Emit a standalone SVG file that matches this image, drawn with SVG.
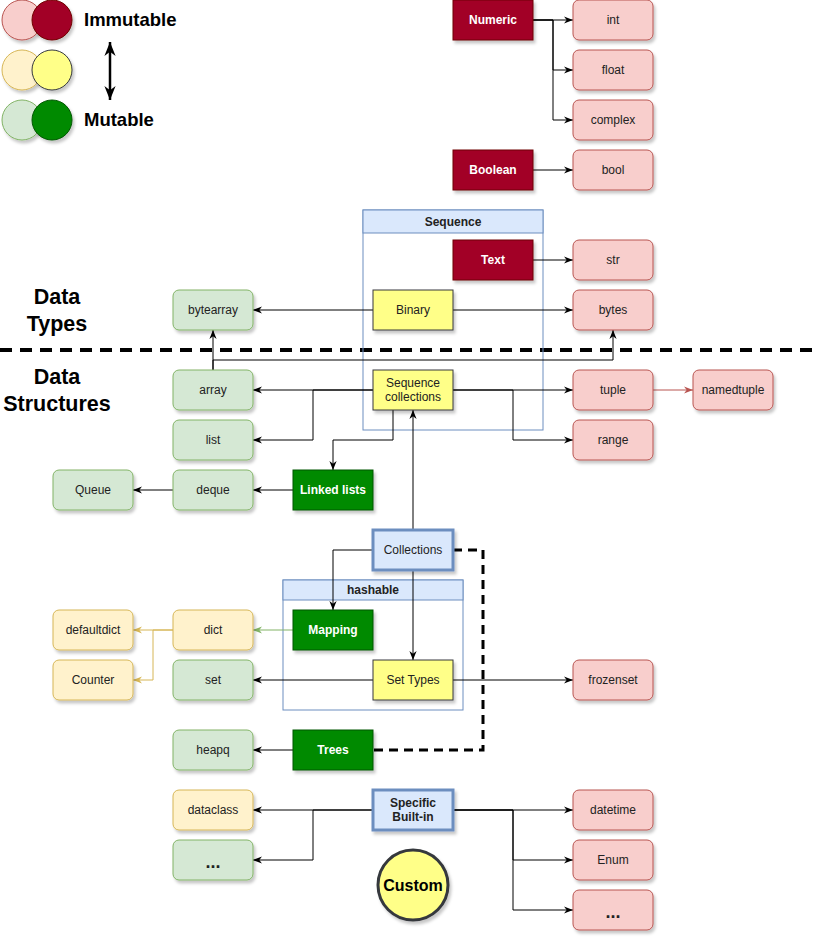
<svg xmlns="http://www.w3.org/2000/svg" width="816" height="942" viewBox="0 0 816 942">
<defs>
<filter id="sh" x="-20%" y="-20%" width="150%" height="160%"><feDropShadow dx="2" dy="3" stdDeviation="1.5" flood-color="#000" flood-opacity="0.22"/></filter>
<marker id="a" viewBox="0 0 10 10" refX="10" refY="5" markerWidth="9" markerHeight="9" orient="auto" markerUnits="userSpaceOnUse"><path d="M0,1 L10,5 L0,9 L3,5 Z" fill="#000"/></marker>
<marker id="ar" viewBox="0 0 10 10" refX="10" refY="5" markerWidth="9" markerHeight="9" orient="auto" markerUnits="userSpaceOnUse"><path d="M0,1 L10,5 L0,9 L3,5 Z" fill="#b85450"/></marker>
<marker id="ag" viewBox="0 0 10 10" refX="10" refY="5" markerWidth="9" markerHeight="9" orient="auto" markerUnits="userSpaceOnUse"><path d="M0,1 L10,5 L0,9 L3,5 Z" fill="#82b366"/></marker>
<marker id="ay" viewBox="0 0 10 10" refX="10" refY="5" markerWidth="9" markerHeight="9" orient="auto" markerUnits="userSpaceOnUse"><path d="M0,1 L10,5 L0,9 L3,5 Z" fill="#d6b656"/></marker>
<marker id="ab" viewBox="0 0 10 10" refX="10" refY="5" markerWidth="14" markerHeight="14" orient="auto-start-reverse" markerUnits="userSpaceOnUse"><path d="M0,1 L10,5 L0,9 L3,5 Z" fill="#000"/></marker>
</defs>
<style>
text{font-family:"Liberation Sans",Arial,sans-serif;font-size:12px;text-anchor:middle;dominant-baseline:central;fill:#222}
.n rect,.n circle{filter:url(#sh)}
.red rect{fill:#f8cecc;stroke:#b85450}
.dred rect{fill:#a20025;stroke:#6f0000}
.dred text,.dgrn text{fill:#fff;font-weight:bold}
.yel rect{fill:#ffff88;stroke:#36393d}
.grn rect{fill:#d5e8d4;stroke:#82b366}
.dgrn rect{fill:#008a00;stroke:#005700}
.ylw rect{fill:#fff2cc;stroke:#d6b656}
.blu rect{fill:#dae8fc;stroke:#6c8ebf;stroke-width:3}
.big{font-size:18.5px;font-weight:bold;fill:#000}
.lbl{font-size:21.5px;font-weight:bold;fill:#000}
.c path{fill:none;stroke:#000;stroke-width:1;marker-end:url(#a)}
.cont rect{fill:none;stroke:#6c8ebf}
.cont rect.h{fill:#dae8fc}
.cont text{font-weight:bold}
</style>

<g id="legend">
<circle cx="22" cy="20" r="20" fill="#f8cecc" stroke="#b85450" filter="url(#sh)"/>
<circle cx="52" cy="20" r="20" fill="#a20025" stroke="#6f0000" filter="url(#sh)"/>
<circle cx="22" cy="70" r="20" fill="#fff2cc" stroke="#d6b656" filter="url(#sh)"/>
<circle cx="52" cy="70" r="20" fill="#ffff88" stroke="#36393d" filter="url(#sh)"/>
<circle cx="22" cy="120" r="20" fill="#d5e8d4" stroke="#82b366" filter="url(#sh)"/>
<circle cx="52" cy="120" r="20" fill="#008a00" stroke="#005700" filter="url(#sh)"/>
<text x="84" y="19" class="big" style="text-anchor:start">Immutable</text>
<text x="84" y="119" class="big" style="text-anchor:start">Mutable</text>
<path d="M110,42 L110,100" stroke="#000" stroke-width="2.5" fill="none" marker-start="url(#ab)" marker-end="url(#ab)"/>
<text x="57" y="297" class="lbl">Data</text>
<text x="57" y="324" class="lbl">Types</text>
<text x="57" y="377" class="lbl">Data</text>
<text x="57" y="404" class="lbl">Structures</text>
<path d="M0,350 L816,350" stroke="#000" stroke-width="4" stroke-dasharray="12,8"/>
</g>

<g id="sequence" class="cont">
<rect x="363" y="210" width="180" height="220"/>
<rect class="h" x="363" y="210" width="180" height="23"/>
<text x="453" y="222">Sequence</text>
</g>
<g id="hashable" class="cont">
<rect x="283" y="580" width="180" height="130"/>
<rect class="h" x="283" y="580" width="180" height="20"/>
<text x="373" y="590">hashable</text>
</g>

<g id="connectors" class="c">
<path d="M533,20 L573,20"/>
<path d="M533,20 L553,20 L553,70 L573,70"/>
<path d="M533,20 L553,20 L553,120 L573,120"/>
<path d="M533,170 L573,170"/>
<path d="M533,260 L573,260"/>
<path d="M373,310 L253,310"/>
<path d="M453,310 L573,310"/>
<path d="M213,370 L213,330"/>
<path d="M213,370 L213,360 L613,360 L613,330"/>
<path d="M373,390 L253,390"/>
<path d="M373,390 L313,390 L313,440 L253,440"/>
<path d="M393,410 L393,440 L333,440 L333,470"/>
<path d="M453,390 L573,390"/>
<path d="M453,390 L513,390 L513,440 L573,440"/>
<path d="M653,390 L693,390" style="stroke:#b85450;marker-end:url(#ar)"/>
<path d="M293,490 L253,490"/>
<path d="M173,490 L133,490"/>
<path d="M413,530 L413,410"/>
<path d="M373,550 L333,550 L333,610"/>
<path d="M413,570 L413,660"/>
<path d="M293,630 L253,630" style="stroke:#82b366;marker-end:url(#ag)"/>
<path d="M173,630 L133,630" style="stroke:#d6b656;marker-end:url(#ay)"/>
<path d="M173,630 L153,630 L153,680 L133,680" style="stroke:#d6b656;marker-end:url(#ay)"/>
<path d="M373,680 L253,680"/>
<path d="M453,680 L573,680"/>
<path d="M293,750 L253,750"/>
<path d="M453,550 L483,550 L483,750 L373,750" style="stroke-width:3;stroke-dasharray:9,6;marker-end:none"/>
<path d="M373,810 L253,810"/>
<path d="M373,810 L313,810 L313,860 L253,860"/>
<path d="M453,810 L573,810"/>
<path d="M453,810 L513,810 L513,860 L573,860"/>
<path d="M453,810 L513,810 L513,910 L573,910"/>
</g>

<g id="numeric" class="n dred"><rect x="453" y="0" width="80" height="40"/><text x="493" y="20">Numeric</text></g>
<g id="int" class="n red"><rect x="573" y="0" width="80" height="40" rx="6"/><text x="613" y="20">int</text></g>
<g id="float" class="n red"><rect x="573" y="50" width="80" height="40" rx="6"/><text x="613" y="70">float</text></g>
<g id="complex" class="n red"><rect x="573" y="100" width="80" height="40" rx="6"/><text x="613" y="120">complex</text></g>
<g id="boolean" class="n dred"><rect x="453" y="150" width="80" height="40"/><text x="493" y="170">Boolean</text></g>
<g id="bool" class="n red"><rect x="573" y="150" width="80" height="40" rx="6"/><text x="613" y="170">bool</text></g>
<g id="text" class="n dred"><rect x="453" y="240" width="80" height="40"/><text x="493" y="260">Text</text></g>
<g id="str" class="n red"><rect x="573" y="240" width="80" height="40" rx="6"/><text x="613" y="260">str</text></g>
<g id="binary" class="n yel"><rect x="373" y="290" width="80" height="40"/><text x="413" y="310">Binary</text></g>
<g id="bytes" class="n red"><rect x="573" y="290" width="80" height="40" rx="6"/><text x="613" y="310">bytes</text></g>
<g id="bytearray" class="n grn"><rect x="173" y="290" width="80" height="40" rx="6"/><text x="213" y="310">bytearray</text></g>
<g id="array" class="n grn"><rect x="173" y="370" width="80" height="40" rx="6"/><text x="213" y="390">array</text></g>
<g id="seqcoll" class="n yel"><rect x="373" y="370" width="80" height="40"/><text x="413" y="383">Sequence</text><text x="413" y="397">collections</text></g>
<g id="tuple" class="n red"><rect x="573" y="370" width="80" height="40" rx="6"/><text x="613" y="390">tuple</text></g>
<g id="namedtuple" class="n red"><rect x="693" y="370" width="80" height="40" rx="6"/><text x="733" y="390">namedtuple</text></g>
<g id="list" class="n grn"><rect x="173" y="420" width="80" height="40" rx="6"/><text x="213" y="440">list</text></g>
<g id="range" class="n red"><rect x="573" y="420" width="80" height="40" rx="6"/><text x="613" y="440">range</text></g>
<g id="queue" class="n grn"><rect x="53" y="470" width="80" height="40" rx="6"/><text x="93" y="490">Queue</text></g>
<g id="deque" class="n grn"><rect x="173" y="470" width="80" height="40" rx="6"/><text x="213" y="490">deque</text></g>
<g id="linkedlists" class="n dgrn"><rect x="293" y="470" width="80" height="40"/><text x="333" y="490">Linked lists</text></g>
<g id="collections" class="n blu"><rect x="373" y="530" width="80" height="40"/><text x="413" y="550">Collections</text></g>
<g id="defaultdict" class="n ylw"><rect x="53" y="610" width="80" height="40" rx="6"/><text x="93" y="630">defaultdict</text></g>
<g id="dict" class="n ylw"><rect x="173" y="610" width="80" height="40" rx="6"/><text x="213" y="630">dict</text></g>
<g id="mapping" class="n dgrn"><rect x="293" y="610" width="80" height="40"/><text x="333" y="630">Mapping</text></g>
<g id="counter" class="n ylw"><rect x="53" y="660" width="80" height="40" rx="6"/><text x="93" y="680">Counter</text></g>
<g id="set" class="n grn"><rect x="173" y="660" width="80" height="40" rx="6"/><text x="213" y="680">set</text></g>
<g id="settypes" class="n yel"><rect x="373" y="660" width="80" height="40"/><text x="413" y="680">Set Types</text></g>
<g id="frozenset" class="n red"><rect x="573" y="660" width="80" height="40" rx="6"/><text x="613" y="680">frozenset</text></g>
<g id="heapq" class="n grn"><rect x="173" y="730" width="80" height="40" rx="6"/><text x="213" y="750">heapq</text></g>
<g id="trees" class="n dgrn"><rect x="293" y="730" width="80" height="40"/><text x="333" y="750">Trees</text></g>
<g id="dataclass" class="n ylw"><rect x="173" y="790" width="80" height="40" rx="6"/><text x="213" y="810">dataclass</text></g>
<g id="specific" class="n blu"><rect x="373" y="790" width="80" height="40"/><text x="413" y="803" style="font-weight:bold">Specific</text><text x="413" y="817" style="font-weight:bold">Built-in</text></g>
<g id="datetime" class="n red"><rect x="573" y="790" width="80" height="40" rx="6"/><text x="613" y="810">datetime</text></g>
<g id="etc1" class="n grn"><rect x="173" y="840" width="80" height="40" rx="6"/><text x="213" y="862" style="font-size:18px;font-weight:bold">...</text></g>
<g id="enum" class="n red"><rect x="573" y="840" width="80" height="40" rx="6"/><text x="613" y="860">Enum</text></g>
<g id="etc2" class="n red"><rect x="573" y="890" width="80" height="40" rx="6"/><text x="613" y="912" style="font-size:18px;font-weight:bold">...</text></g>
<g id="custom" class="n"><circle cx="413" cy="885" r="35" fill="#ffff88" stroke="#36393d" stroke-width="3"/><text x="413" y="885" style="font-size:16px;font-weight:bold;fill:#000">Custom</text></g>
</svg>
